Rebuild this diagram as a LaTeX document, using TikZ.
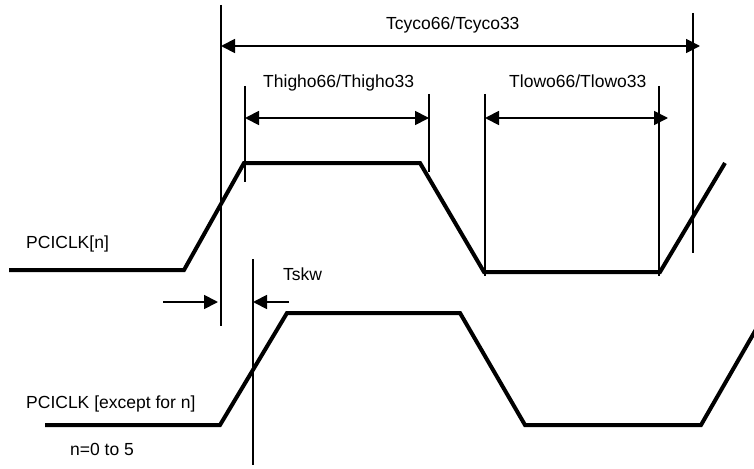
\documentclass[tikz,border=0pt]{standalone}
\usepackage{fontspec}
\setmainfont{Liberation Sans}
\usetikzlibrary{arrows.meta}
\begin{document}
\begin{tikzpicture}[x=1pt,y=-1pt,
  sig/.style={line width=4pt, line join=miter},
  thin/.style={line width=1.6pt},
  dim/.style={line width=1.8pt, {Triangle[length=14pt,width=14pt]}-{Triangle[length=14pt,width=14pt]}},
  sarr/.style={line width=1.8pt, -{Triangle[length=14pt,width=14pt]}},
  lbl/.style={font=\fontsize{17.5}{20}\selectfont, inner sep=0pt, anchor=base west}]
\useasboundingbox (0,0) rectangle (754,468);
\clip (0,0) rectangle (754,468);
% top signal
\coordinate (a0) at (9,270);
\coordinate (a1) at (184,270);
\coordinate (a2) at (244,163);
\coordinate (a3) at (420,163);
\coordinate (a4) at (484,272);
\coordinate (a5) at (660,272);
\coordinate (a6) at (725,163);
\draw[sig] (a0) -- (a1) -- (a2) -- (a3) -- (a4) -- (a5) -- (a6);
% bottom signal
\coordinate (b0) at (45,425);
\coordinate (b1) at (220,425);
\coordinate (b2) at (287,313);
\coordinate (b3) at (460,313);
\coordinate (b4) at (525,425);
\coordinate (b5) at (701,425);
\coordinate (b6) at (766,312);
\draw[sig] (b0) -- (b1) -- (b2) -- (b3) -- (b4) -- (b5) -- (b6);
% vertical reference lines
\coordinate (v1t) at (221,5);   \coordinate (v1b) at (221,326);
\coordinate (v2t) at (253,259); \coordinate (v2b) at (253,465);
\coordinate (v3t) at (245,86);  \coordinate (v3b) at (245,182);
\coordinate (v4t) at (429,94);  \coordinate (v4b) at (429,172);
\coordinate (v5t) at (485,94);  \coordinate (v5b) at (485,276);
\coordinate (v6t) at (659,86);  \coordinate (v6b) at (659,276);
\coordinate (v7t) at (693,13);  \coordinate (v7b) at (693,253);
\foreach \i in {1,...,7} \draw[thin] (v\i t) -- (v\i b);
% dimension arrows
\coordinate (c1) at (221,46);  \coordinate (c2) at (700,46);
\coordinate (h1) at (245,118); \coordinate (h2) at (429,118);
\coordinate (l1) at (485,118); \coordinate (l2) at (668,118);
\draw[dim] (c1) -- (c2);
\draw[dim] (h1) -- (h2);
\draw[dim] (l1) -- (l2);
% skew arrows
\coordinate (s1) at (163,302); \coordinate (s2) at (218,302);
\coordinate (s3) at (289,302); \coordinate (s4) at (253,302);
\draw[sarr] (s1) -- (s2);
\draw[sarr] (s3) -- (s4);
% labels
\node[lbl] (tcyc) at (386,30) {Tcyco66/Tcyco33};
\node[lbl] (thigh) at (263,88) {Thigho66/Thigho33};
\node[lbl] (tlow) at (509,88) {Tlowo66/Tlowo33};
\node[lbl] (tskw) at (283,280) {Tskw};
\node[lbl] (pn) at (26,248) {PCICLK[n]};
\node[lbl] (pe) at (26,408) {PCICLK [except for n]};
\node[lbl] (nr) at (70,455) {n=0 to 5};
\end{tikzpicture}
\end{document}
